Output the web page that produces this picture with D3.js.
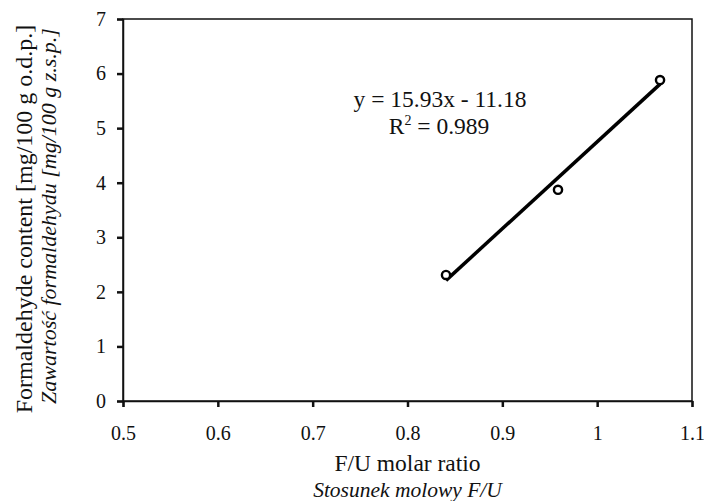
<!DOCTYPE html>
<html>
<head>
<meta charset="utf-8">
<script src="https://cdn.jsdelivr.net/npm/d3@7/dist/d3.min.js"></script>
<style>
  html, body { margin: 0; padding: 0; background: #fff; }
  svg { display: block; }
  text { font-family: "Liberation Serif", "Times New Roman", serif; fill: #111; }
</style>
</head>
<body>
<svg id="chart" width="704" height="501"></svg>
<script>
// Measured F/U molar ratios and formaldehyde content
const molarRatio = [0.8406, 0.9587, 1.0663];
const formaldehyde = [2.31, 3.87, 5.88];

// Linear trend reported on the chart
const trendSlope = 15.93;
const trendIntercept = -11.18;
const trendR2 = 0.989;

const xTicks = [0.5, 0.6, 0.7, 0.8, 0.9, 1.0, 1.1];
const yTicks = [0, 1, 2, 3, 4, 5, 6, 7];

const serif = '"Liberation Serif", "Times New Roman", serif';
const margin = { top: 19, right: 12, bottom: 100, left: 123 };
const width = 704, height = 501;
const svg = d3.select("#chart");

const x = d3.scaleLinear().domain([0.5, 1.1]).range([margin.left, width - margin.right]);
const y = d3.scaleLinear().domain([0, 7]).range([height - margin.bottom, margin.top]);

// Plot frame
svg.append("rect")
  .attr("x", x(0.5)).attr("y", y(7))
  .attr("width", x(1.1) - x(0.5)).attr("height", y(0) - y(7))
  .attr("fill", "none").attr("stroke", "#111").attr("stroke-width", 1.5);

// X axis
const xAxis = svg.append("g")
  .attr("transform", `translate(0,${y(0)})`)
  .attr("font-family", serif)
  .call(d3.axisBottom(x).tickValues(xTicks).tickSize(6).tickPadding(19)
    .tickFormat(d => d === 1 ? "1" : d3.format(".1f")(d)));
xAxis.select(".domain").attr("stroke", "#111").attr("stroke-width", 1.5);
xAxis.selectAll(".tick line").attr("stroke", "#111").attr("stroke-width", 2.5);
xAxis.selectAll(".tick text").style("font-size", "20px").style("font-family", serif);

// Y axis
const yAxis = svg.append("g")
  .attr("transform", `translate(${x(0.5)},0)`)
  .call(d3.axisLeft(y).tickValues(yTicks).tickSize(6).tickPadding(11).tickFormat(d3.format("d")));
yAxis.attr("font-family", serif);
yAxis.select(".domain").attr("stroke", "#111").attr("stroke-width", 1.5);
yAxis.selectAll(".tick line").attr("stroke", "#111").attr("stroke-width", 2.5);
yAxis.selectAll(".tick text").style("font-size", "20px").style("font-family", serif);

// Trend line across the measured range
const xMin = d3.min(molarRatio), xMax = d3.max(molarRatio);
svg.append("line")
  .attr("x1", x(xMin)).attr("y1", y(trendSlope * xMin + trendIntercept))
  .attr("x2", x(xMax)).attr("y2", y(trendSlope * xMax + trendIntercept))
  .attr("stroke", "#000").attr("stroke-width", 3.5);

// Data points
svg.selectAll("circle.pt")
  .data(molarRatio.map((r, i) => [r, formaldehyde[i]]))
  .join("circle")
  .attr("class", "pt")
  .attr("cx", d => x(d[0])).attr("cy", d => y(d[1]))
  .attr("r", 4.1)
  .attr("fill", "#fff").attr("stroke", "#000").attr("stroke-width", 2.4);

// Equation and coefficient of determination
svg.append("text")
  .attr("x", 440).attr("y", 107)
  .attr("text-anchor", "middle")
  .style("font-size", "23.5px")
  .text(`y = ${trendSlope.toFixed(2)}x - ${Math.abs(trendIntercept).toFixed(2)}`);
const r2 = svg.append("text")
  .attr("x", 439).attr("y", 134)
  .attr("text-anchor", "middle")
  .style("font-size", "23.5px");
r2.append("tspan").text("R");
r2.append("tspan").attr("dy", -9).style("font-size", "14px").text("2");
r2.append("tspan").attr("dy", 9).text(` = ${trendR2.toFixed(3)}`);

// Axis titles
const cx = (x(0.5) + x(1.1)) / 2;
svg.append("text").attr("x", cx).attr("y", 471).attr("text-anchor", "middle")
  .style("font-size", "23.5px").text("F/U molar ratio");
svg.append("text").attr("x", cx).attr("y", 497).attr("text-anchor", "middle")
  .style("font-size", "21.5px").style("font-style", "italic").text("Stosunek molowy F/U");

svg.append("text").attr("transform", `translate(32,219) rotate(-90)`)
  .attr("text-anchor", "middle")
  .style("font-size", "24px").text("Formaldehyde content [mg/100 g o.d.p.]");
svg.append("text").attr("transform", `translate(56,216) rotate(-90)`)
  .attr("text-anchor", "middle")
  .style("font-size", "22px").style("font-style", "italic")
  .text("Zawartość formaldehydu [mg/100 g z.s.p.]");
</script>
</body>
</html>
